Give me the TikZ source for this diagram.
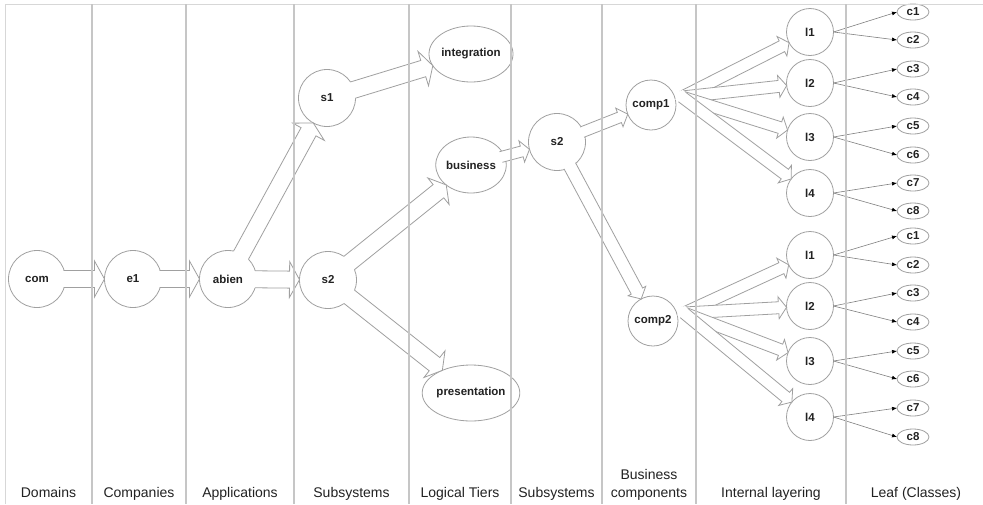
\documentclass[tikz,border=0pt]{standalone}
\usepackage{fontspec}
\setmainfont{Liberation Sans}
\usetikzlibrary{calc,shapes.geometric,arrows.meta}
\definecolor{edge}{HTML}{A0A0A0}
\definecolor{colline}{HTML}{C6C6C6}
\definecolor{txt}{HTML}{222222}
\tikzset{
  nodefont/.style={font=\fontsize{11.5}{13}\selectfont\bfseries,text=txt},
  circnode/.style={circle,draw=edge,line width=0.8pt,inner sep=0pt,outer sep=0pt,nodefont},
  ellnode/.style={ellipse,draw=edge,line width=0.8pt,inner sep=0pt,outer sep=0pt,nodefont},
  fatline/.style={draw=edge,line width=0.8pt,line join=miter},
  thinarr/.style={draw=edge!80!black,line width=0.6pt,-{Latex[length=5pt,width=4pt,color=black]}},
  colsep/.style={draw=colline,line width=1.1pt},
  collabel/.style={font=\fontsize{14}{17}\selectfont,text=txt,anchor=base}
}
% #1 source, #2 target node, #3 start distance from source, #4 half shaft, #5 half head, #6 head length
\newcommand\fatarr[6]{%
  \coordinate (fS) at ($(#1)!#3!(#2)$);
  \path (fS) -- (#2) coordinate[pos=1] (fT);
  \coordinate (fC) at ($(fT)!#6!(fS)$);
  \coordinate (fB) at ($(fS)!-4pt!(fT)$);
  \fill[white] ($(fB)!#4!90:(fT)$) -- ($(fC)!#4!90:(fT)$) -- ($(fC)!#5!90:(fT)$) -- (fT)
     -- ($(fC)!#5!-90:(fT)$) -- ($(fC)!#4!-90:(fT)$) -- ($(fB)!#4!-90:(fT)$) -- cycle;
  \draw[fatline] ($(fS)!#4!90:(fT)$) -- ($(fC)!#4!90:(fT)$) -- ($(fC)!#5!90:(fT)$) -- (fT)
     -- ($(fC)!#5!-90:(fT)$) -- ($(fC)!#4!-90:(fT)$) -- ($(fS)!#4!-90:(fT)$);
}
\begin{document}
\begin{tikzpicture}[x=1pt,y=-1pt]
\useasboundingbox (0,0) rectangle (983,504);
\fill[white] (0,0) rectangle (983,504);

% main nodes
\node[circnode,minimum size=57pt] (com) at (37,279) {com};
\node[circnode,minimum size=57pt] (e1) at (133,279) {e1};
\node[circnode,minimum size=57pt] (abien) at (228,279) {abien};
\node[circnode,minimum size=57pt] (s1) at (327,98) {s1};
\node[circnode,minimum size=57pt] (s2) at (328,280) {s2};
\node[ellnode,minimum width=79pt,minimum height=56pt] (integration) at (471,54) {integration};
\node[ellnode,minimum width=66pt,minimum height=56pt] (business) at (471,165) {business};
\node[ellnode,minimum width=79pt,minimum height=56pt] (presentation) at (471,393) {presentation};
\node[circnode,minimum size=57pt] (s2b) at (557,142) {s2};
\node[circnode,minimum size=50pt] (comp1) at (651,105) {comp1};
\node[circnode,minimum size=50pt] (comp2) at (653,321) {comp2};

% layering nodes
\foreach \n/\y in {a1/32,a2/83,a3/137,a4/193,b1/255,b2/306,b3/361,b4/417}{
  \node[circnode,minimum width=47pt,minimum height=45pt] (l\n) at (810,\y) {};
}
\node[nodefont] at (la1) {l1}; \node[nodefont] at (la2) {l2};
\node[nodefont] at (la3) {l3}; \node[nodefont] at (la4) {l4};
\node[nodefont] at (lb1) {l1}; \node[nodefont] at (lb2) {l2};
\node[nodefont] at (lb3) {l3}; \node[nodefont] at (lb4) {l4};

% leaf nodes
\foreach \n/\y/\t in {a1/12/c1,a2/40/c2,a3/69/c3,a4/97/c4,a5/126/c5,a6/155/c6,a7/183/c7,a8/211/c8,
                      b1/236/c1,b2/265/c2,b3/293/c3,b4/322/c4,b5/351/c5,b6/379/c6,b7/408/c7,b8/437/c8}{
  \node[ellnode,minimum width=32pt,minimum height=16pt] (c\n) at (913,\y) {\t};
}

% fan origins
\coordinate (P1) at ($(comp1)+(31,-8)$);
\coordinate (P2) at ($(comp2)+(31,-8)$);

% block arrows
\fatarr{com}{e1}{26.5pt}{8.5pt}{18pt}{10pt}
\fatarr{e1}{abien}{26.5pt}{8.5pt}{18pt}{10pt}
\fatarr{abien}{s2}{27pt}{8.5pt}{18pt}{10pt}
\fatarr{abien}{s1}{27pt}{8.5pt}{18pt}{10pt}
\fatarr{s1}{integration}{27pt}{8.5pt}{18pt}{10pt}
\fatarr{s2}{business}{27pt}{8.5pt}{17pt}{10pt}
\fatarr{s2}{presentation}{27pt}{8.5pt}{17pt}{10pt}
\fatarr{business}{s2b}{31pt}{5.5pt}{11pt}{8pt}
\fatarr{s2b}{comp1}{27pt}{5.5pt}{10pt}{9pt}
\fatarr{s2b}{comp2}{27pt}{6.5pt}{10pt}{9pt}
\fatarr{P1}{la1}{0pt}{6pt}{11pt}{8pt}
\fatarr{P1}{la2}{0pt}{6pt}{11pt}{8pt}
\fatarr{P1}{la3}{0pt}{6pt}{11pt}{8pt}
\fatarr{P1}{la4}{0pt}{6pt}{11pt}{8pt}
\fatarr{P2}{lb1}{0pt}{6pt}{11pt}{8pt}
\fatarr{P2}{lb2}{0pt}{6pt}{11pt}{8pt}
\fatarr{P2}{lb3}{0pt}{6pt}{11pt}{8pt}
\fatarr{P2}{lb4}{0pt}{6pt}{11pt}{8pt}

% thin arrows
\foreach \g in {a,b}{
  \draw[thinarr] (l\g1.east) -- (c\g1.west);
  \draw[thinarr] (l\g1.east) -- (c\g2.west);
  \draw[thinarr] (l\g2.east) -- (c\g3.west);
  \draw[thinarr] (l\g2.east) -- (c\g4.west);
  \draw[thinarr] (l\g3.east) -- (c\g5.west);
  \draw[thinarr] (l\g3.east) -- (c\g6.west);
  \draw[thinarr] (l\g4.east) -- (c\g7.west);
  \draw[thinarr] (l\g4.east) -- (c\g8.west);
}

% frame and column separators
\draw[draw=colline!70,line width=0.8pt] (5,504) -- (5,4) -- (983,4);
\foreach \x in {92,186,294,409,511,602,696,846}{
  \draw[colsep] (\x,4) -- (\x,504);
}

% column labels
\node[collabel] (lblA) at (48.5,497) {Domains};
\node[collabel] (lblB) at (139,497) {Companies};
\node[collabel] (lblC) at (240,497) {Applications};
\node[collabel] (lblD) at (351.5,497) {Subsystems};
\node[collabel] (lblE) at (460,497) {Logical Tiers};
\node[collabel] (lblF) at (556.5,497) {Subsystems};
\node[collabel] (lblG1) at (649,479) {Business};
\node[collabel] (lblG2) at (649,497) {components};
\node[collabel] (lblH) at (771,497) {Internal layering};
\node[collabel] (lblI) at (916,497) {Leaf (Classes)};
\end{tikzpicture}
\end{document}
